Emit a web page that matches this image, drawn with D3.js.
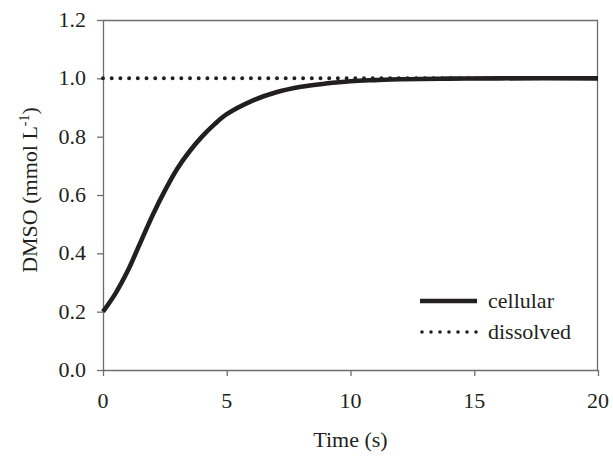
<!DOCTYPE html>
<html>
<head>
<meta charset="utf-8">
<script src="https://cdn.jsdelivr.net/npm/d3@7"></script>
</head>
<body style="margin:0">
<svg id="s" width="613" height="457"></svg>
<script>
// DMSO time course
/////////////////////////////////

// data
var timeS = [0, 0.5, 1, 1.5, 2, 2.5, 3, 3.5, 4, 4.5, 5, 6, 7, 8, 9, 10, 11, 12, 14, 16, 20];
var cellular = [0.20, 0.262, 0.34, 0.435, 0.53, 0.615, 0.69, 0.75, 0.80, 0.842, 0.877,
    0.922, 0.952, 0.971, 0.982, 0.990, 0.994, 0.997, 0.999, 1.0, 1.0];
var dissolvedTime = [0, 20];
var dissolved = [1.0, 1.0];
var xTicks = [0, 5, 10, 15, 20];
var yTicks = [0, 0.2, 0.4, 0.6, 0.8, 1.0, 1.2];
var seriesNames = ['cellular', 'dissolved'];

var margin = { top: 20, right: 15, bottom: 87, left: 103 },
    width = 613 - margin.left - margin.right,
    height = 457 - margin.top - margin.bottom,
    fam = "'Liberation Serif'",
    axisCol = '#6d6e71',
    ink = '#231f20';

var svg = d3.select('#s');
var g = svg.append('g').attr('transform', 'translate(' + margin.left + ',' + margin.top + ')');

var x = d3.scaleLinear().domain([0, 20]).range([0, width]);
var y = d3.scaleLinear().domain([0, 1.2]).range([height, 0]);

// frame (top and right)
g.append('path')
    .attr('d', 'M0,0.5H' + (width - 0.5) + 'V' + height)
    .attr('fill', 'none')
    .attr('stroke', axisCol)
    .attr('stroke-width', 1.3);

// axes (lines only, labels drawn below)
var xAxis = g.append('g')
    .attr('transform', 'translate(0,' + height + ')')
    .call(d3.axisBottom(x).tickValues(xTicks).tickSize(6).tickFormat('').tickSizeOuter(0));
var yAxis = g.append('g')
    .call(d3.axisLeft(y).tickValues(yTicks).tickSize(6).tickFormat('').tickSizeOuter(0));

[xAxis, yAxis].forEach(function (a) {
    a.select('.domain').attr('stroke', axisCol).attr('stroke-width', 1.3);
    a.selectAll('.tick line').attr('stroke', axisCol).attr('stroke-width', 1.3);
    a.selectAll('.tick text').remove();
});

// tick labels
svg.selectAll('text.xt').data(xTicks).enter().append('text')
    .attr('class', 'xt')
    .attr('x', function (d) { return margin.left + x(d); })
    .attr('y', margin.top + height + 38)
    .attr('text-anchor', 'middle')
    .attr('font-size', 22)
    .attr('fill', ink)
    .style('font-family', fam)
    .text(function (d) { return d; });

svg.selectAll('text.yt').data(yTicks).enter().append('text')
    .attr('class', 'yt')
    .attr('x', margin.left - 17)
    .attr('y', function (d) { return margin.top + y(d) + 7; })
    .attr('text-anchor', 'end')
    .attr('font-size', 22)
    .attr('fill', ink)
    .style('font-family', fam)
    .text(function (d) { return d3.format('.1f')(d); });

// lines
var line = d3.line()
    .x(function (d) { return x(d[0]); })
    .y(function (d) { return y(d[1]); })
    .curve(d3.curveCatmullRom.alpha(0.5));

g.append('path')
    .datum(d3.zip(dissolvedTime, dissolved))
    .attr('d', line)
    .attr('fill', 'none')
    .attr('stroke', ink)
    .attr('stroke-width', 4)
    .attr('stroke-linecap', 'round')
    .attr('stroke-dasharray', '0 8.7');

g.append('path')
    .datum(d3.zip(timeS, cellular))
    .attr('d', line)
    .attr('fill', 'none')
    .attr('stroke', ink)
    .attr('stroke-width', 4.6);

// axis titles
svg.append('text')
    .attr('x', margin.left + width / 2)
    .attr('y', 447)
    .attr('text-anchor', 'middle')
    .attr('fill', ink)
    .attr('font-size', 22)
    .style('font-family', fam)
    .text('Time (s)');

var yt = svg.append('text')
    .attr('transform', 'translate(37,' + (margin.top + 170) + ') rotate(-90)')
    .attr('text-anchor', 'middle')
    .attr('fill', ink)
    .attr('font-size', 22)
    .style('font-family', fam);
yt.append('tspan').text('DMSO (mmol L');
yt.append('tspan').attr('font-size', 14).attr('dy', -8).text('-1');
yt.append('tspan').attr('dy', 8).text(')');

// legend
var legend = g.append('g').attr('transform', 'translate(' + (420 - margin.left) + ',' + (301 - margin.top) + ')');
seriesNames.forEach(function (name, i) {
    var row = legend.append('g').attr('transform', 'translate(0,' + (i * 31) + ')');
    var l = row.append('line')
        .attr('x1', 0).attr('x2', 57)
        .attr('stroke', ink);
    if (i === 0) {
        l.attr('stroke-width', 4.6);
    } else {
        l.attr('x1', 2).attr('stroke-width', 3.6).attr('stroke-linecap', 'round').attr('stroke-dasharray', '0 9');
    }
    row.append('text')
        .attr('x', 68)
        .attr('y', 7)
        .attr('fill', ink)
        .attr('font-size', 22)
        .style('font-family', fam)
        .text(name);
});
</script>
</body>
</html>
